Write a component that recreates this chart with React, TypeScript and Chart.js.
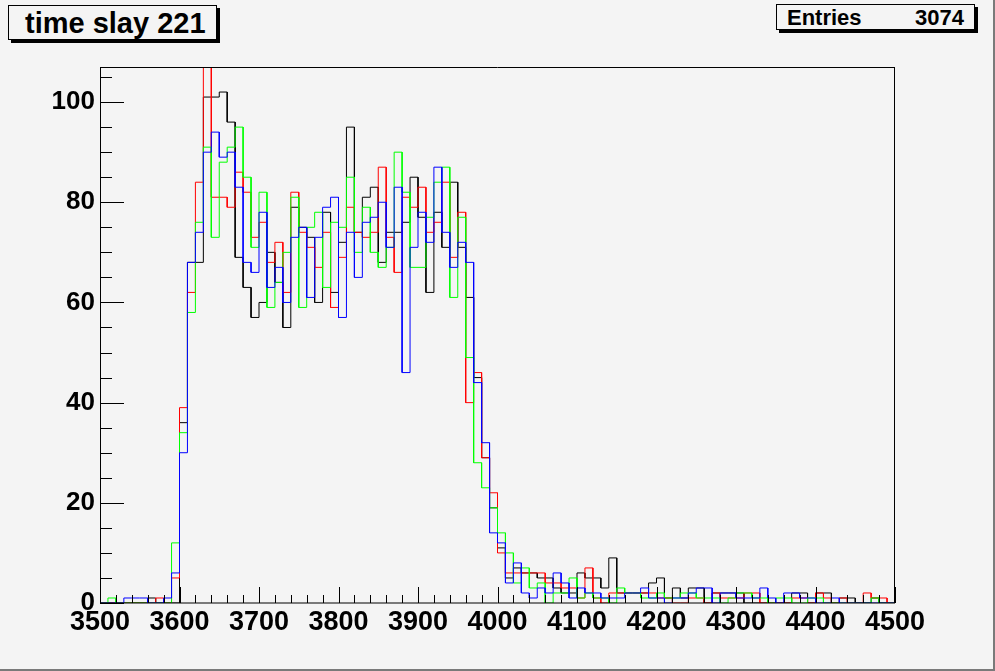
import React, { useEffect, useRef } from 'react';
import { Chart, registerables } from 'chart.js';

Chart.register(...registerables);

const BIN_LOW = 3500;
const BIN_WIDTH = 10;
const xTickLabels = [3500, 3600, 3700, 3800, 3900, 4000, 4100, 4200, 4300, 4400, 4500];
const yTickLabels = [0, 20, 40, 60, 80, 100];
const Y_MAX = 107;

const blackCounts = [
  0, 0, 0, 0, 0, 0, 1, 0, 0, 0,
  36, 68, 68, 101, 101, 102, 96, 69, 63, 57,
  60, 70, 64, 55, 79, 75, 73, 60, 78, 62,
  72, 95, 74, 81, 83, 68, 74, 74, 76, 85,
  77, 62, 78, 71, 84, 71, 61, 45, 29, 19,
  11, 5, 7, 6, 6, 5, 5, 3, 2, 2,
  6, 5, 5, 3, 9, 2, 2, 2, 2, 4,
  5, 1, 3, 1, 3, 3, 0, 2, 2, 2,
  2, 0, 0, 0, 0, 0, 0, 2, 2, 0,
  2, 2, 0, 1, 1, 0, 0, 1, 0, 0,
];

const redCounts = [
  0, 0, 0, 0, 0, 0, 0, 1, 0, 5,
  39, 62, 84, 112, 81, 81, 79, 86, 82, 73,
  76, 68, 72, 62, 82, 74, 71, 67, 74, 59,
  69, 79, 74, 73, 74, 87, 73, 66, 81, 79,
  83, 74, 76, 84, 69, 78, 40, 46, 29, 22,
  10, 6, 6, 6, 6, 6, 4, 4, 3, 3,
  1, 7, 1, 0, 2, 2, 2, 2, 2, 2,
  1, 1, 0, 0, 1, 1, 0, 2, 1, 1,
  1, 2, 2, 0, 0, 0, 0, 1, 1, 0,
  2, 1, 0, 1, 0, 0, 2, 1, 1, 0,
];

const greenCounts = [
  0, 1, 0, 0, 0, 0, 0, 0, 0, 12,
  34, 58, 76, 91, 73, 88, 91, 95, 85, 71,
  82, 59, 64, 70, 81, 59, 75, 78, 63, 76,
  75, 85, 70, 79, 70, 67, 71, 90, 82, 67,
  67, 77, 84, 87, 61, 77, 49, 28, 23, 19,
  14, 10, 4, 7, 3, 4, 0, 2, 2, 5,
  1, 2, 1, 1, 0, 3, 2, 2, 1, 1,
  2, 1, 1, 2, 2, 1, 1, 1, 0, 1,
  2, 2, 1, 1, 0, 1, 1, 0, 0, 1,
  1, 0, 0, 0, 0, 0, 0, 1, 0, 0,
];

const blueCounts = [
  0, 0, 0, 1, 1, 1, 0, 0, 1, 6,
  30, 68, 74, 90, 94, 89, 90, 83, 68, 66,
  78, 63, 67, 60, 73, 75, 61, 73, 79, 81,
  57, 74, 65, 76, 77, 80, 71, 83, 46, 71,
  78, 72, 87, 74, 67, 72, 68, 44, 32, 14,
  12, 4, 8, 2, 1, 3, 2, 6, 4, 1,
  3, 2, 2, 1, 1, 1, 2, 2, 3, 1,
  1, 0, 1, 1, 2, 3, 3, 0, 2, 2,
  1, 1, 1, 3, 1, 0, 2, 2, 1, 1,
  0, 0, 1, 0, 0, 0, 0, 0, 0, 0,
];

const FONT = "'Liberation Sans', Arial, Helvetica, sans-serif";

function histPoints(counts: number[]) {
  const pts: { x: number; y: number }[] = [];
  counts.forEach((v, i) => {
    const lo = BIN_LOW + i * BIN_WIDTH;
    pts.push({ x: lo, y: v });
    pts.push({ x: lo + BIN_WIDTH, y: v });
  });
  return pts;
}

const rootFrame = {
  id: 'rootFrame',
  afterDatasetsDraw(chart: any) {
    const { ctx, chartArea: a, scales } = chart;
    const xs = scales.x;
    const ys = scales.y;
    ctx.save();
    ctx.strokeStyle = '#000';
    ctx.lineWidth = 1;
    ctx.beginPath();
    ctx.moveTo(a.left, a.top + 0.5);
    ctx.lineTo(a.right, a.top + 0.5);
    ctx.moveTo(a.left + 0.5, a.top);
    ctx.lineTo(a.left + 0.5, a.bottom);
    ctx.moveTo(a.right - 0.5, a.top);
    ctx.lineTo(a.right - 0.5, a.bottom);
    ctx.stroke();
    ctx.beginPath();
    ctx.moveTo(a.left, a.bottom);
    ctx.lineTo(a.right, a.bottom);
    ctx.stroke();
    // y ticks (inside)
    ctx.beginPath();
    for (let v = 0; v <= Y_MAX; v += 5) {
      const py = Math.round(ys.getPixelForValue(v)) + 0.5;
      const len = v % 20 === 0 ? 24 : 12;
      ctx.moveTo(a.left, py);
      ctx.lineTo(a.left + len, py);
    }
    // x ticks (inside)
    for (let v = xTickLabels[0]; v <= xTickLabels[xTickLabels.length - 1]; v += 20) {
      const px = Math.round(xs.getPixelForValue(v)) + 0.5;
      const len = (v - xTickLabels[0]) % 100 === 0 ? 16 : 8;
      ctx.moveTo(px, a.bottom);
      ctx.lineTo(px, a.bottom - len);
    }
    ctx.stroke();
    ctx.restore();
  },
};

export default function App() {
  const ref = useRef<HTMLCanvasElement | null>(null);

  useEffect(() => {
    if (!ref.current) return;
    const mk = (counts: number[], color: string) => ({
      data: histPoints(counts),
      borderColor: color,
      borderWidth: 1,
      pointRadius: 0,
      fill: false,
      tension: 0,
    });
    const chart = new Chart(ref.current, {
      type: 'line',
      data: {
        datasets: [
          mk(blueCounts, '#0000ff'),
          mk(greenCounts, '#00ff00'),
          mk(redCounts, '#ff0000'),
          mk(blackCounts, '#000000'),
        ],
      },
      options: {
        animation: false,
        responsive: false,
        devicePixelRatio: 1,
        events: [],
        layout: { padding: { left: 0, right: 100, top: 67, bottom: 0 } },
        plugins: { legend: { display: false }, tooltip: { enabled: false }, title: { display: false } },
        scales: {
          x: {
            type: 'linear',
            min: xTickLabels[0],
            max: xTickLabels[xTickLabels.length - 1],
            grid: { display: false, drawTicks: false },
            border: { display: false },
            afterBuildTicks: (scale: any) => {
              scale.ticks = xTickLabels.map((v) => ({ value: v }));
            },
            afterFit: (scale: any) => {
              scale.height = 68;
            },
            ticks: {
              color: '#000',
              padding: 3,
              maxRotation: 0,
              autoSkip: false,
              font: { family: FONT, size: 27, weight: 'bold' },
              callback: (v: any) => String(v),
            },
          },
          y: {
            type: 'linear',
            min: 0,
            max: Y_MAX,
            grid: { display: false, drawTicks: false },
            border: { display: false },
            afterBuildTicks: (scale: any) => {
              scale.ticks = yTickLabels.map((v) => ({ value: v }));
            },
            afterFit: (scale: any) => {
              scale.width = 100;
            },
            ticks: {
              color: '#000',
              padding: 5,
              autoSkip: false,
              font: { family: FONT, size: 26, weight: 'bold' },
              callback: (v: any) => String(v),
            },
          },
        },
      },
      plugins: [rootFrame],
    } as any);
    return () => chart.destroy();
  }, []);

  const boxText: React.CSSProperties = {
    position: 'absolute',
    fontFamily: FONT,
    fontWeight: 'bold',
    color: '#000',
    whiteSpace: 'nowrap',
    lineHeight: 1,
  };

  return (
    <div style={{ position: 'absolute', left: 0, top: 0, width: 995, height: 671, background: '#f4f4f4', overflow: 'hidden' }}>
      <canvas ref={ref} width={995} height={671} style={{ position: 'absolute', left: 0, top: 0, width: 995, height: 671 }} />
      {/* canvas border */}
      <div style={{ position: 'absolute', left: 993, top: 0, width: 2, height: 671, background: '#7a7a7a' }} />
      <div style={{ position: 'absolute', left: 0, top: 669, width: 995, height: 2, background: '#7a7a7a' }} />
      {/* title box */}
      <div style={{ position: 'absolute', left: 11, top: 8, width: 209, height: 35, background: '#000' }} />
      <div style={{ position: 'absolute', left: 8, top: 5, width: 207, height: 33, border: '1px solid #000', background: '#f4f4f4' }}>
        <span style={{ ...boxText, left: 16, top: 3, fontSize: 29 }}>time slay 221</span>
      </div>
      {/* stats box */}
      <div style={{ position: 'absolute', left: 779, top: 7, width: 199, height: 26, background: '#000' }} />
      <div style={{ position: 'absolute', left: 776, top: 4, width: 197, height: 24, border: '1px solid #000', background: '#f4f4f4' }}>
        <span style={{ ...boxText, left: 10, top: 2, fontSize: 22 }}>Entries</span>
        <span style={{ ...boxText, right: 10, top: 2, fontSize: 22 }}>3074</span>
      </div>
    </div>
  );
}
